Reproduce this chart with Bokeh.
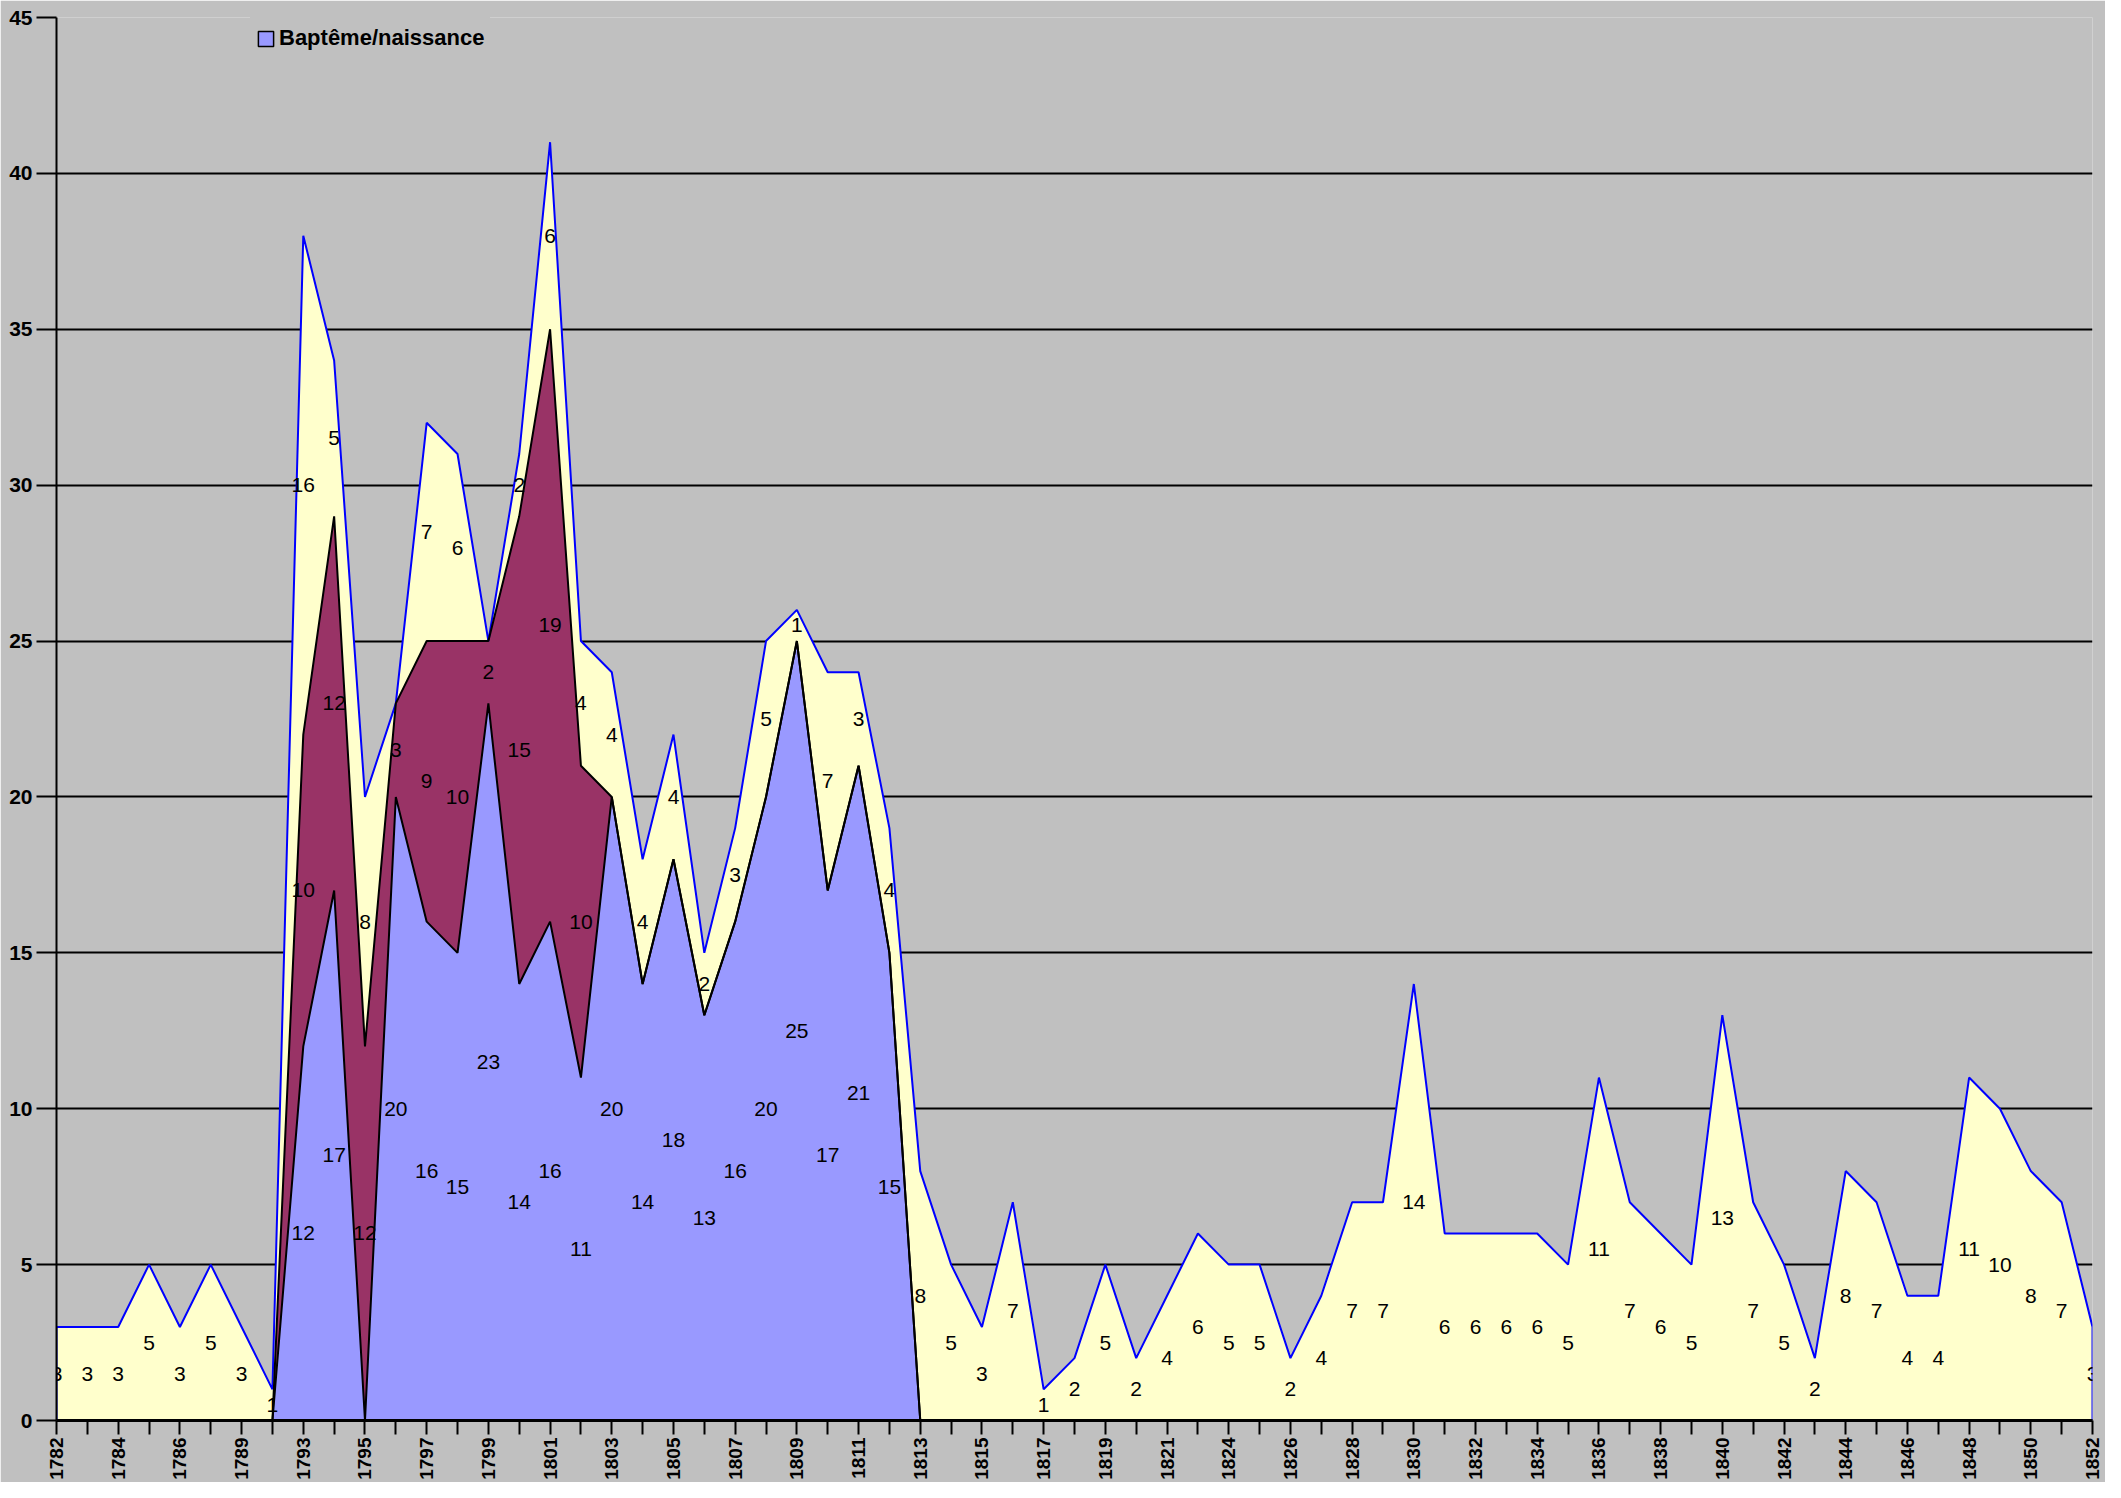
import numpy as np
from bokeh.plotting import figure
from bokeh.models import Range1d, FixedTicker, ColumnDataSource, Legend, LegendItem
from bokeh.core.properties import value
from bokeh.embed import file_html
from bokeh.resources import INLINE

# ---------------- data ----------------
years = ["1782", "1783", "1784", "1785", "1786", "1788", "1789", "1791", "1793", "1794",
         "1795", "1796", "1797", "1798", "1799", "1800", "1801", "1802", "1803", "1804",
         "1805", "1806", "1807", "1808", "1809", "1810", "1811", "1812", "1813", "1814",
         "1815", "1816", "1817", "1818", "1819", "1820", "1821", "1823", "1824", "1825",
         "1826", "1827", "1828", "1829", "1830", "1831", "1832", "1833", "1834", "1835",
         "1836", "1837", "1838", "1839", "1840", "1841", "1842", "1843", "1844", "1845",
         "1846", "1847", "1848", "1849", "1850", "1851", "1852"]

bapteme = [0, 0, 0, 0, 0, 0, 0, 0, 12, 17,
           0, 20, 16, 15, 23, 14, 16, 11, 20, 14,
           18, 13, 16, 20, 25, 17, 21, 15, 0, 0,
           0, 0, 0, 0, 0, 0, 0, 0, 0, 0,
           0, 0, 0, 0, 0, 0, 0, 0, 0, 0,
           0, 0, 0, 0, 0, 0, 0, 0, 0, 0,
           0, 0, 0, 0, 0, 0, 0]

deces = [0, 0, 0, 0, 0, 0, 0, 0, 10, 12,
         12, 3, 9, 10, 2, 15, 19, 10, 0, 0,
         0, 0, 0, 0, 0, 0, 0, 0, 0, 0,
         0, 0, 0, 0, 0, 0, 0, 0, 0, 0,
         0, 0, 0, 0, 0, 0, 0, 0, 0, 0,
         0, 0, 0, 0, 0, 0, 0, 0, 0, 0,
         0, 0, 0, 0, 0, 0, 0]

mariage = [3, 3, 3, 5, 3, 5, 3, 1, 16, 5,
           8, 0, 7, 6, 0, 2, 6, 4, 4, 4,
           4, 2, 3, 5, 1, 7, 3, 4, 8, 5,
           3, 7, 1, 2, 5, 2, 4, 6, 5, 5,
           2, 4, 7, 7, 14, 6, 6, 6, 6, 5,
           11, 7, 6, 5, 13, 7, 5, 2, 8, 7,
           4, 4, 11, 10, 8, 7, 3]

y_ticks = [0, 5, 10, 15, 20, 25, 30, 35, 40, 45]

# ---------------- derived ----------------
n = len(years)
x = np.arange(n)
b = np.array(bapteme, dtype=float)
d = np.array(deces, dtype=float)
m = np.array(mariage, dtype=float)
bd = b + d
tot = bd + m

src = ColumnDataSource(dict(x=x, bap=b, dec=d, mar=m))

BG = "#C0C0C0"
p = figure(width=2105, height=1482,
           x_range=Range1d(0, n - 1), y_range=Range1d(0, 45),
           output_backend="svg", toolbar_location=None,
           min_border_left=56, min_border_right=13, min_border_top=17, min_border_bottom=60,
           background_fill_color=BG, border_fill_color=BG, outline_line_color=None)

p.varea_stack(["bap", "dec", "mar"], x="x", color=["#9999FF", "#993366", "#FFFFCC"], source=src)

# outline of the whole stack (blue), with the vertical edges at both ends
xs_tot = np.concatenate([[x[0]], x, [x[-1]]])
ys_tot = np.concatenate([[0.0], tot, [0.0]])
p.line(xs_tot, ys_tot, line_color="#0000FF", line_width=2)
p.line(x, bd, line_color="black", line_width=2)
p.line(x, b, line_color="black", line_width=2)

# data labels (middle of each segment, zero values omitted)
lx, ly, lt = [], [], []
for vals, base in ((b, np.zeros(n)), (d, b), (m, bd)):
    for i in range(n):
        if vals[i] > 0:
            lx.append(x[i])
            ly.append(base[i] + vals[i] / 2.0)
            lt.append(str(int(vals[i])))
p.text(x=lx, y=ly, text=lt, text_align="center", text_baseline="middle",
       text_font=value("Liberation Sans"), text_font_size="21px", text_color="black")

# axes
p.xaxis.ticker = FixedTicker(ticks=list(range(0, n, 2)), minor_ticks=list(range(1, n, 2)))
p.xaxis.major_label_overrides = {i: years[i] for i in range(0, n, 2)}
p.xaxis.major_label_orientation = np.pi / 2
p.xaxis.major_tick_out = 14
p.xaxis.major_tick_in = 0
p.xaxis.minor_tick_out = 14
p.xaxis.minor_tick_in = 0
p.xaxis.major_tick_line_width = 2
p.xaxis.minor_tick_line_width = 2
p.xaxis.major_tick_line_color = "black"
p.xaxis.minor_tick_line_color = "black"
p.xaxis.axis_line_width = 3
p.xaxis.axis_line_color = "black"
p.xaxis.major_label_standoff = 3
p.xaxis.major_label_text_font_size = "19px"

p.yaxis.ticker = FixedTicker(ticks=y_ticks, minor_ticks=[])
p.yaxis.major_tick_out = 20
p.yaxis.major_tick_in = 0
p.yaxis.major_tick_line_width = 2
p.yaxis.major_tick_line_color = "black"
p.yaxis.axis_line_width = 2
p.yaxis.axis_line_color = "black"
p.yaxis.major_label_standoff = 4
p.yaxis.major_label_text_font_size = "21px"

for ax in (p.xaxis, p.yaxis):
    ax.major_label_text_font = "Liberation Sans"
    ax.major_label_text_font_style = "bold"
    ax.major_label_text_color = "black"

p.xgrid.visible = False
p.ygrid.grid_line_color = "black"
p.ygrid.grid_line_width = 2

# legend proxies (no visible mark: NaN geometry, only used for the legend swatches)
nan = [float("nan")]
r_dec = p.quad(left=nan, right=nan, top=nan, bottom=nan, fill_color="#993366", line_color="black", line_width=1.5)
r_bap = p.quad(left=nan, right=nan, top=nan, bottom=nan, fill_color="#9999FF", line_color="black", line_width=1.5)
legend = Legend(items=[LegendItem(label="Décès", renderers=[r_dec]),
                       LegendItem(label="Baptême/naissance", renderers=[r_bap])],
                location=(194, 1361), orientation="vertical",
                glyph_width=19, glyph_height=19, label_height=30, label_standoff=4,
                spacing=7, padding=6, margin=0,
                label_text_font="Liberation Sans", label_text_font_style="bold",
                label_text_font_size="22px", label_text_color="black",
                background_fill_color=BG, background_fill_alpha=1.0,
                border_line_alpha=0.0)
p.add_layout(legend)

open("out.html", "w").write(file_html(p, INLINE))
